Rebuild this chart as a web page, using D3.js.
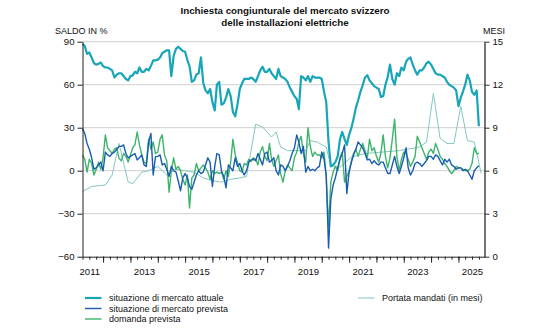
<!DOCTYPE html>
<html>
<head>
<meta charset="utf-8">
<script src="https://cdn.jsdelivr.net/npm/d3@7"></script>
<style>
body { margin: 0; background: #fff; }
svg text { font-family: "Liberation Sans", Arial, Helvetica, sans-serif; fill: #111; }
</style>
</head>
<body>
<div id="chart"></div>
<script>
// monthly survey, first observation April 2011
const firstMonth = new Date(2011, 3, 1);

const attuale = [
  88.5, 87, 81.5, 82.5, 79, 75, 74, 74.5, 75.5, 73,
  72, 72, 71, 70, 65, 67, 68, 68, 66, 64,
  63, 66, 66.5, 69, 68, 72, 69, 69, 71, 70,
  73, 77, 77, 77.5, 79, 82, 83, 84, 84, 66,
  80, 85, 86.5, 85, 83.5, 83, 77, 73, 62, 63,
  67, 68, 79, 61, 56, 54, 57, 48, 42, 60,
  62, 46, 47, 51, 57, 52, 41, 38, 46, 57,
  61, 64, 64, 64, 65, 64, 62, 66, 70, 72.5,
  69, 69, 71, 68, 66, 64, 71, 66, 65, 64,
  62, 58, 55, 52, 50, 43, 66, 65, 63, 66,
  62, 66, 65, 65, 65, 64, 55, 48, 20, 3,
  4, 6, 10, 22, 27, 22, 18, 25, 30, 36,
  44, 49, 55, 59.6, 65, 66.6, 63, 61, 59, 58,
  57, 51.5, 52, 60, 65.5, 74, 64, 60, 68, 66,
  72, 70, 76, 78, 79, 74, 70, 67, 70, 70,
  72, 75, 76, 74, 71, 68, 67, 67, 66, 65,
  62, 60, 59, 58, 56, 45, 51, 55, 60, 67,
  63, 55, 53, 56, 31
];

const prevista = [
  29.5, 26, 19, 15, 9, 1, 2, 4, 6, 0,
  13, 11, 10, 12, 13, 15, 17, 17, 18, 12,
  9, 10, 11, 12, 7.5, 9, 11, 4, 3, 20,
  26, -3, 9.8, 10, 11, 4, 5, 1, -4, 3,
  0, -1, -7, -14, -5, -2, -5, -11, -13, -8,
  -3, 0, -2, -1, 4, 9, 6, -11, 3, 12,
  11, 0, -4, -12, 4, 2, 0, 9, 3, 5,
  0, -3, 0, 6, 7.5, 8, 7, 12, 8, 4,
  12, 13, 6, 7, 9, 0, -3, 4, 3, 0,
  3, 7, 12, 16, 25, 20, 12, 17, -1, 3,
  0, 1, 0, 2, 3, 13, 8, -3, -54, -20,
  -10, -5, 2, 8, 12, 18, -16, -1, 6, 11,
  15, 20, 18, 16, 12, 7.5, 8, 5, 7, 5,
  4, 6, 6, 2, -2, -2, 4, 10, 3, -2,
  3, 9, 16, 2, -3, 0, 5, 6, 5, 3,
  5, 7, 10, 10, 8, 11, 10, 7, 4, 8,
  6, 8, 4, 3, 1, 2, 2, 0, 1, 0,
  -3, -6, 0, 2, 3.5
];

const domanda = [
  11, 8, -1, 8, 5, -3, 1, 6, 1, 9,
  25, 16, 14, 12, 15, 16, 8.6, 7, 12, 10,
  6, 11, 16, 18, 27, 18, 11, 6, 5, 22,
  15, 20, 12, 13, 22, 25, 11, 7, -15, 0,
  9, 1, 3, 0, -6, -10, -3, -26, -5, -3,
  5, 0, 2, 4, 2, -1, -6, 0, -2, -1,
  -2, -1, -6, 0, -4, 6, 22, 11, 6, 0,
  -1, 5, 4, 8, 6.5, 9, 8, 4, 13, 16.8,
  10, 7, 19, 8, 3, 7, 11, -2, -8, 0,
  4, 2, 0, 9, 13, 20, 24, 12, 6, 30,
  17, 10, 13, 11, 11, 9, 13, -5, -39, -8,
  -1, 3, 0, 9, 13, -8, -4, 0, 7, 12,
  15, 10, 15, 19, 14, 9, 22, 14, 16, 10,
  6, 12, 25, 10, 2, 9, 22, 36, 10, 0,
  8, 13, 12, 8, 3, 6, 10, 24, 20, 16,
  12, 8, 13, 15, 12, 19, 15, 10, 8, 5,
  3, 0, -2, 0, 3, 2, 2, 1, 0, 0,
  1, 5, 16, 12, 12
];

// order book reach in months (right axis), irregular survey dates
const portataDate = [
  "2011-04", "2011-08", "2012-02", "2012-05", "2012-08", "2012-12", "2013-02",
  "2013-06", "2013-09", "2014-01", "2014-05", "2014-09", "2015-01", "2015-05",
  "2015-09", "2016-01", "2016-05", "2016-09", "2017-01", "2017-04", "2017-08",
  "2017-11", "2018-03", "2018-05", "2018-07", "2018-10", "2019-06", "2019-08",
  "2019-11", "2020-03", "2020-05", "2020-09", "2021-02", "2021-08", "2022-11",
  "2023-08", "2023-11", "2024-02", "2024-05", "2024-08", "2024-11", "2025-02",
  "2025-05", "2025-08", "2025-11"
];
const portataMesi = [
  4.55, 4.9, 5.0, 5.7, 7.9, 5.2, 5.1,
  5.9, 6.0, 6.3, 5.7, 6.1, 6.0, 5.9,
  5.5, 5.3, 5.2, 5.4, 5.5, 5.6, 9.25,
  9.05, 8.35, 8.7, 7.65, 7.4, 7.4, 8.1,
  8.0, 7.65, 6.35, 6.25, 6.95, 7.2, 7.4,
  7.65, 8.0, 11.4, 8.25, 7.9, 7.9, 10.5,
  8.1, 8.0, 5.8
];

const yearLabels = [2011, 2013, 2015, 2017, 2019, 2021, 2023, 2025];
const saldoTicks = [-60, -30, 0, 30, 60, 90];
const mesiTicks = [0, 3, 6, 9, 12, 15];
const gridTicks = [-30, 0, 30, 60, 90];

const legendItems = [
  { name: "situazione di mercato attuale", color: "#17a6b8", width: 2.2 },
  { name: "situazione di mercato prevista", color: "#1a5db0", width: 1.4 },
  { name: "domanda prevista", color: "#3cb46b", width: 1.4 },
  { name: "Portata mandati (in mesi)", color: "#82c8c4", width: 1 }
];

const W = 560, H = 336;
const L = 82.5, R = 484.5, T = 41.7, B = 256.7;

const svg = d3.select("#chart").append("svg")
  .attr("width", W).attr("height", H);

const x = d3.scaleTime()
  .domain([firstMonth, new Date(2025, 11, 15)])
  .range([L, R]);
const y = d3.scaleLinear().domain([-60, 90]).range([B, T]);
const y2 = d3.scaleLinear().domain([0, 15]).range([B, T]);

const monthly = vals => vals.map((v, i) => ({ date: d3.timeMonth.offset(firstMonth, i), v: v }));
const parseMonth = d3.timeParse("%Y-%m");

// grid
svg.append("g").selectAll("line").data(gridTicks).enter().append("line")
  .attr("x1", L).attr("x2", R)
  .attr("y1", d => y(d)).attr("y2", d => y(d))
  .attr("stroke", "#cfcfcf").attr("stroke-width", 1);

// series
const line = d3.line().x(d => x(d.date)).y(d => d.y);
const series = [
  { pts: portataDate.map((d, i) => ({ date: parseMonth(d), y: y2(portataMesi[i]) })), st: legendItems[3] },
  { pts: monthly(domanda).map(d => ({ date: d.date, y: y(d.v) })), st: legendItems[2] },
  { pts: monthly(prevista).map(d => ({ date: d.date, y: y(d.v) })), st: legendItems[1] },
  { pts: monthly(attuale).map(d => ({ date: d.date, y: y(d.v) })), st: legendItems[0] }
];
svg.append("g").selectAll("path").data(series).enter().append("path")
  .attr("d", s => line(s.pts))
  .attr("fill", "none")
  .attr("stroke", s => s.st.color)
  .attr("stroke-width", s => s.st.width)
  .attr("stroke-linejoin", "round");

// axes
function styleAxis(g) {
  g.attr("font-family", null).attr("font-size", null);
  g.selectAll("text").style("font-size", "9.6px");
}

svg.append("g").attr("transform", "translate(" + L + ",0)")
  .call(d3.axisLeft(y).tickValues(saldoTicks).tickSize(5).tickSizeOuter(0).tickPadding(3))
  .call(styleAxis)
  .call(g => g.selectAll("line, path").attr("stroke", "#222"));

svg.append("g").attr("transform", "translate(" + R + ",0)")
  .call(d3.axisRight(y2).tickValues(mesiTicks).tickSize(5).tickSizeOuter(0).tickPadding(3))
  .call(styleAxis)
  .call(g => g.select("path").attr("stroke", "#666").attr("stroke-width", 1.8))
  .call(g => g.selectAll("line").attr("stroke", "#333"));

const xb = svg.append("g").attr("transform", "translate(0," + B + ")");
xb.append("g")
  .call(d3.axisBottom(x).ticks(d3.timeMonth.every(3)).tickSize(3).tickSizeOuter(0).tickFormat(""))
  .call(g => g.selectAll("line, path").attr("stroke", "#222"));
xb.append("g")
  .call(d3.axisBottom(x).ticks(d3.timeYear.every(1)).tickSize(6).tickSizeOuter(0).tickFormat(""))
  .call(g => g.select("path").remove())
  .call(g => g.selectAll("line").attr("stroke", "#222"));
xb.append("g")
  .call(d3.axisBottom(x).tickValues(yearLabels.map(yr => new Date(yr, 6, 1)))
    .tickSize(0).tickPadding(11).tickFormat(d3.timeFormat("%Y")))
  .call(g => g.select("path").remove())
  .call(styleAxis);

// axis titles
svg.append("text").attr("x", 55).attr("y", 34).style("font-size", "9px").text("SALDO IN %");
svg.append("text").attr("x", 483).attr("y", 34).style("font-size", "9px").text("MESI");

// title
const title = svg.append("text").attr("text-anchor", "middle")
  .style("font-size", "9.8px").style("font-weight", "bold");
title.append("tspan").attr("x", 285).attr("y", 13.5).text("Inchiesta congiunturale del mercato svizzero");
title.append("tspan").attr("x", 285).attr("y", 26).text("delle installazioni elettriche");

// legend
const legPos = [[85, 298], [85, 308.5], [85, 319], [358, 298]];
const leg = svg.append("g").selectAll("g").data(legendItems).enter().append("g")
  .attr("transform", (d, i) => "translate(" + legPos[i] + ")");
leg.append("line").attr("x1", 0).attr("x2", 16.5).attr("y1", 0).attr("y2", 0)
  .attr("stroke", d => d.color).attr("stroke-width", d => d.width);
leg.append("text").attr("x", 24).attr("y", 3.2).style("font-size", "9px").text(d => d.name);
</script>
</body>
</html>
